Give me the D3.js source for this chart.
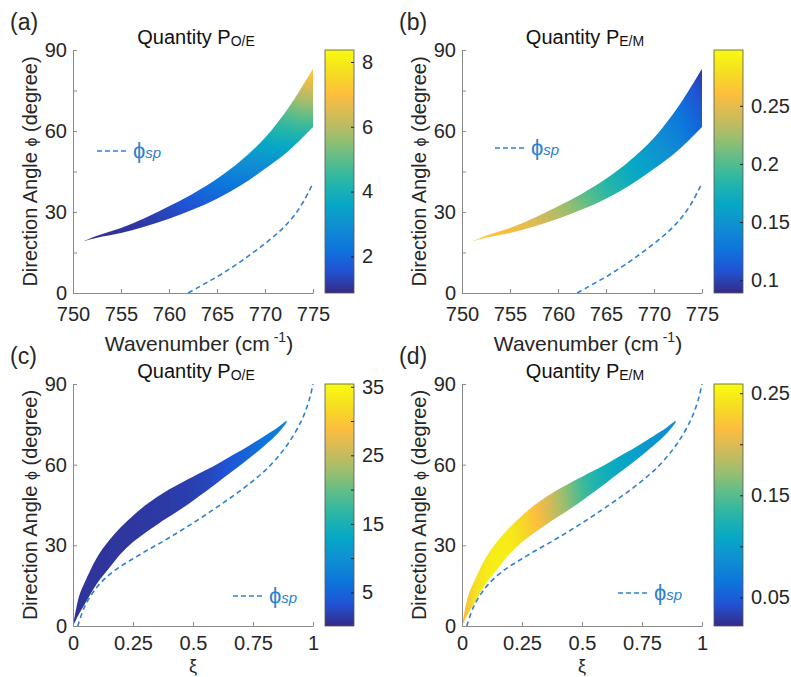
<!DOCTYPE html>
<html>
<head>
<meta charset="utf-8">
<script src="https://cdn.jsdelivr.net/npm/d3@7"></script>
<style>
  body { margin: 0; background: #fff; }
  svg text { font-family: "Liberation Sans", Arial, sans-serif; fill: #262626; }
</style>
</head>
<body>
<svg id="fig" width="791" height="677"></svg>
<script>
// ---- data ----
// (a),(b): band of allowed directions vs wavenumber
const wavenumber = [751.2, 752.5, 755, 757.5, 760, 762.5, 765, 767.5, 770, 772.5, 775];
const phiUpperWn = [19.3, 21.2, 24.1, 27.8, 32.1, 36.8, 42.3, 49.1, 57.5, 68.9, 83.1];
const phiLowerWn = [19.3, 20.5, 22.2, 24.6, 27.5, 30.9, 34.9, 39.9, 46.0, 52.8, 61.5];
const pOEUpperWn = [0.95, 0.98, 1.05, 1.15, 1.4, 1.8, 2.4, 3.0, 3.8, 5.2, 7.4];
const pOELowerWn = [0.95, 0.98, 1.02, 1.1, 1.3, 1.55, 1.9, 2.3, 2.8, 3.5, 4.5];
const pEMUpperWn = [0.27, 0.265, 0.255, 0.243, 0.227, 0.204, 0.183, 0.166, 0.148, 0.127, 0.095];
const pEMLowerWn = [0.27, 0.266, 0.257, 0.247, 0.232, 0.214, 0.19, 0.172, 0.158, 0.141, 0.116];
// phi_sp vs wavenumber
const wavenumberSp = [762, 763, 764, 765, 766, 767, 768, 769, 770, 771, 772, 773, 774, 775];
const phiSpWn = [0, 2, 4, 6, 8.2, 10.5, 13, 15.6, 18.3, 21.2, 24.5, 28.5, 33.8, 40.7];

// (c),(d): band vs xi
const xi = [0, 0.025, 0.05, 0.1, 0.15, 0.2, 0.25, 0.3, 0.35, 0.4, 0.45, 0.5, 0.55, 0.6, 0.65, 0.7, 0.75, 0.8, 0.85, 0.89];
const phiUpperXi = [0, 11, 16.5, 25.5, 31.8, 36.8, 41, 44.8, 48, 50.8, 53.2, 55.5, 57.8, 60.2, 62.8, 65.3, 68, 70.8, 73.6, 76.4];
const phiLowerXi = [0, 4.5, 8.3, 15.8, 21.5, 27, 31.2, 34.6, 37.7, 40.6, 43.5, 46.6, 49.8, 53.2, 56.6, 60, 63.5, 67.2, 71.3, 75.6];
const pOEXi = [0.8, 0.8, 0.9, 0.9, 1.0, 1.0, 1.1, 1.2, 1.3, 1.4, 1.6, 1.8, 2.2, 2.8, 3.5, 4.5, 5.5, 6.5, 7.5, 8.5];
const pEMUpperXi = [0.21, 0.22, 0.235, 0.245, 0.248, 0.245, 0.232, 0.215, 0.198, 0.18, 0.16, 0.14, 0.126, 0.116, 0.11, 0.104, 0.098, 0.092, 0.088, 0.085];
const pEMLowerXi = [0.21, 0.225, 0.24, 0.248, 0.25, 0.248, 0.238, 0.222, 0.205, 0.185, 0.165, 0.145, 0.13, 0.118, 0.111, 0.105, 0.099, 0.093, 0.089, 0.086];
// phi_sp vs xi
const xiSp = [0.02, 0.05, 0.1, 0.15, 0.2, 0.25, 0.3, 0.35, 0.4, 0.45, 0.5, 0.55, 0.6, 0.65, 0.7, 0.75, 0.8, 0.85, 0.9, 0.95, 0.975, 0.99, 1.0];
const phiSpXi = [0, 7.5, 14.5, 19, 22.3, 25, 27.7, 30.2, 32.8, 35.5, 38.3, 41.2, 44.2, 47.3, 50.5, 54, 57.8, 62.5, 68.3, 76, 81.5, 86, 90];

// tick labels
const wnTicks = [750, 755, 760, 765, 770, 775];
const xiTicks = [0, 0.25, 0.5, 0.75, 1];
const phiTicks = [0, 30, 60, 90];
const cbTicksA = [2, 4, 6, 8];
const cbTicksB = [0.1, 0.15, 0.2, 0.25];
const cbTicksC = [5, 15, 25, 35];
const cbTicksD = [0.05, 0.15, 0.25];

// parula colormap
const PARULA = ["#352a87", "#2053d4", "#0d75dc", "#108ed2", "#06a7c6", "#25b5a9",
                "#59bd8b", "#9bbe6f", "#d1bb59", "#fdbe3d", "#f5de21", "#f9fb0e"];
const cmap = d3.piecewise(d3.interpolateRgb, PARULA);
const LUT = d3.range(256).map(i => d3.rgb(cmap(i / 255)));

const LINE_BLUE = "#2f80d0";
const AXIS_GRAY = "#8a8a8a";
const FONT = '"Liberation Sans", Arial, sans-serif';

const svg = d3.select("#fig");
svg.append("rect").attr("width", 791).attr("height", 677).attr("fill", "#fff");
const defs = svg.append("defs");

// colorbar gradient
const grad = defs.append("linearGradient").attr("id", "parula")
  .attr("x1", 0).attr("y1", 1).attr("x2", 0).attr("y2", 0);
PARULA.forEach((c, i) => grad.append("stop")
  .attr("offset", (i / (PARULA.length - 1) * 100) + "%").attr("stop-color", c));

function drawPanel(p) {
  const g = svg.append("g");
  const x = d3.scaleLinear().domain(p.xDomain).range([p.x0, p.x0 + p.w]);
  const y = d3.scaleLinear().domain([0, 90]).range([p.y0 + p.h, p.y0]);
  const cnorm = d3.scaleLinear().domain(p.cDomain).range([0, 1]).clamp(true);

  // coloured band (interpolated shading), clipped to the band outline
  const upAt = d3.scaleLinear().domain(p.xs).range(p.upper).clamp(true);
  const loAt = d3.scaleLinear().domain(p.xs).range(p.lower).clamp(true);
  const vuAt = d3.scaleLinear().domain(p.xs).range(p.valUpper).clamp(true);
  const vlAt = d3.scaleLinear().domain(p.xs).range(p.valLower).clamp(true);
  const canvas = document.createElement("canvas");
  canvas.width = p.w; canvas.height = p.h;
  const ctx = canvas.getContext("2d");
  const img = ctx.createImageData(p.w, p.h);
  for (let i = 0; i < p.w; i++) {
    const xv = x.invert(p.x0 + i + 0.5);
    const u = upAt(xv), l = loAt(xv), vu = vuAt(xv), vl = vlAt(xv);
    for (let j = 0; j < p.h; j++) {
      const phi = y.invert(p.y0 + j + 0.5);
      let t = u > l ? (phi - l) / (u - l) : 0.5;
      t = Math.max(0, Math.min(1, t));
      const c = LUT[Math.round(cnorm(vl + t * (vu - vl)) * 255)];
      const k = (j * p.w + i) * 4;
      img.data[k] = c.r; img.data[k + 1] = c.g; img.data[k + 2] = c.b; img.data[k + 3] = 255;
    }
  }
  ctx.putImageData(img, 0, 0);

  const band = p.xs.map((d, i) => [d, p.upper[i], p.lower[i]]);
  const area = d3.area()
    .x(d => x(d[0])).y0(d => y(d[2])).y1(d => y(d[1]))
    .curve(d3.curveCatmullRom.alpha(0.5));
  defs.append("clipPath").attr("id", "band-" + p.id)
    .append("path").attr("d", area(band));
  g.append("image")
    .attr("href", canvas.toDataURL())
    .attr("x", p.x0).attr("y", p.y0)
    .attr("width", p.w).attr("height", p.h)
    .attr("preserveAspectRatio", "none")
    .attr("clip-path", `url(#band-${p.id})`);

  // phi_sp dashed line
  const line = d3.line().x(d => x(d[0])).y(d => y(d[1])).curve(d3.curveCatmullRom.alpha(0.5));
  g.append("path")
    .attr("d", line(p.spX.map((d, i) => [d, p.spY[i]])))
    .attr("fill", "none").attr("stroke", LINE_BLUE)
    .attr("stroke-width", 1.6).attr("stroke-dasharray", "5,3.5");

  // axes (ticks pointing inward)
  const xAxis = g.append("g")
    .attr("transform", `translate(0,${p.y0 + p.h})`)
    .call(d3.axisBottom(x).tickValues(p.xTicks).tickSizeInner(-4).tickSizeOuter(0).tickPadding(p.xPad)
      .tickFormat(d => d));
  const yAxis = g.append("g")
    .attr("transform", `translate(${p.x0},0)`)
    .call(d3.axisLeft(y).tickValues(p.yTicks).tickSizeInner(-4).tickSizeOuter(0).tickPadding(6)
      .tickFormat(d => phiTicks.includes(d) ? d : ""));
  [xAxis, yAxis].forEach(a => {
    a.selectAll("path.domain").attr("stroke", AXIS_GRAY);
    a.selectAll(".tick line").attr("stroke", AXIS_GRAY);
    a.selectAll("text").attr("font-size", 20).attr("fill", "#262626").style("font-family", FONT);
  });

  // colorbar
  const cb = { x: p.x0 + 252, w: 29 };
  const cy = d3.scaleLinear().domain(p.cDomain).range([p.y0 + p.h, p.y0]);
  g.append("rect").attr("x", cb.x).attr("y", p.y0).attr("width", cb.w).attr("height", p.h)
    .attr("fill", "url(#parula)").attr("stroke", "#555").attr("stroke-width", 0.8);
  const cAxis = g.append("g")
    .attr("transform", `translate(${cb.x + cb.w},0)`)
    .call(d3.axisRight(cy).tickValues(p.cTicks).tickSizeInner(-3).tickSizeOuter(0).tickPadding(8)
      .tickFormat(d => p.cLabels.includes(d) ? d : ""));
  cAxis.select("path.domain").remove();
  cAxis.selectAll(".tick line").attr("stroke", "#222");
  cAxis.selectAll("text").attr("font-size", 20).attr("fill", "#262626").style("font-family", FONT);

  // panel label
  svg.append("text").attr("x", p.x0 - 63).attr("y", p.y0 - 20)
    .attr("font-size", 23).text(`(${p.id})`);

  // title
  const title = svg.append("text").attr("x", p.x0 + p.w / 2 + 3).attr("y", p.y0 - 6)
    .attr("text-anchor", "middle").attr("font-size", 20).style("fill", "#111");
  title.append("tspan").text("Quantity P");
  title.append("tspan").attr("font-size", 14).attr("dy", 1.5).text(p.sub);

  // y label
  const yl = svg.append("text")
    .attr("transform", `translate(${p.x0 - 36},${p.y0 + p.h / 2}) rotate(-90)`)
    .attr("text-anchor", "middle").attr("font-size", 20);
  yl.append("tspan").text("Direction Angle ");
  yl.append("tspan").attr("font-size", 16).text("ϕ");
  yl.append("tspan").text("  (degree)");

  // x label
  if (p.xlabel === "wn") {
    const xl = svg.append("text").attr("x", p.x0 + p.w / 2 + 6).attr("y", p.y0 + p.h + 58)
      .attr("text-anchor", "middle").attr("font-size", 21);
    xl.append("tspan").text("Wavenumber (cm");
    xl.append("tspan").attr("font-size", 14).attr("dy", -9).text(" -1");
    xl.append("tspan").attr("dy", 9).text(")");
  } else {
    svg.append("text").attr("x", p.x0 + p.w / 2).attr("y", p.y0 + p.h + 46)
      .attr("text-anchor", "middle").attr("font-size", 18).text("ξ");
  }

  // legend
  svg.append("line")
    .attr("x1", p.leg[0]).attr("x2", p.leg[0] + 31)
    .attr("y1", p.leg[1]).attr("y2", p.leg[1])
    .attr("stroke", LINE_BLUE).attr("stroke-width", 1.4).attr("stroke-dasharray", "5,3");
  const lt = svg.append("text").attr("x", p.leg[0] + 36).attr("y", p.leg[1] + 7)
    .style("fill", LINE_BLUE).attr("font-size", 22);
  lt.append("tspan").text("ϕ");
  lt.append("tspan").attr("font-size", 15).attr("font-style", "italic").text("sp");
}

const wnYTicks = [0, 15, 30, 45, 60, 75, 90];

drawPanel({ id: "a", x0: 73, y0: 50, w: 240, h: 243, xDomain: [750, 775], xTicks: wnTicks, yTicks: wnYTicks, xPad: 14,
  xs: wavenumber, upper: phiUpperWn, lower: phiLowerWn, valUpper: pOEUpperWn, valLower: pOELowerWn,
  spX: wavenumberSp, spY: phiSpWn, cDomain: [0.87, 8.37], cTicks: cbTicksA, cLabels: cbTicksA,
  sub: "O/E", xlabel: "wn", leg: [97, 151] });

drawPanel({ id: "b", x0: 462, y0: 50, w: 240, h: 243, xDomain: [750, 775], xTicks: wnTicks, yTicks: wnYTicks, xPad: 14,
  xs: wavenumber, upper: phiUpperWn, lower: phiLowerWn, valUpper: pEMUpperWn, valLower: pEMLowerWn,
  spX: wavenumberSp, spY: phiSpWn, cDomain: [0.089, 0.298], cTicks: cbTicksB, cLabels: cbTicksB,
  sub: "E/M", xlabel: "wn", leg: [495, 148] });

drawPanel({ id: "c", x0: 73, y0: 384, w: 240, h: 242, xDomain: [0, 1], xTicks: xiTicks, yTicks: phiTicks, xPad: 10,
  xs: xi, upper: phiUpperXi, lower: phiLowerXi, valUpper: pOEXi, valLower: pOEXi,
  spX: xiSp, spY: phiSpXi, cDomain: [0.1, 35.4], cTicks: [5, 10, 15, 20, 25, 30, 35], cLabels: cbTicksC,
  sub: "O/E", xlabel: "xi", leg: [233, 596] });

drawPanel({ id: "d", x0: 462, y0: 384, w: 240, h: 242, xDomain: [0, 1], xTicks: xiTicks, yTicks: phiTicks, xPad: 10,
  xs: xi, upper: phiUpperXi, lower: phiLowerXi, valUpper: pEMUpperXi, valLower: pEMLowerXi,
  spX: xiSp, spY: phiSpXi, cDomain: [0.022, 0.259], cTicks: [0.05, 0.1, 0.15, 0.2, 0.25], cLabels: cbTicksD,
  sub: "E/M", xlabel: "xi", leg: [618, 593] });
</script>
</body>
</html>
